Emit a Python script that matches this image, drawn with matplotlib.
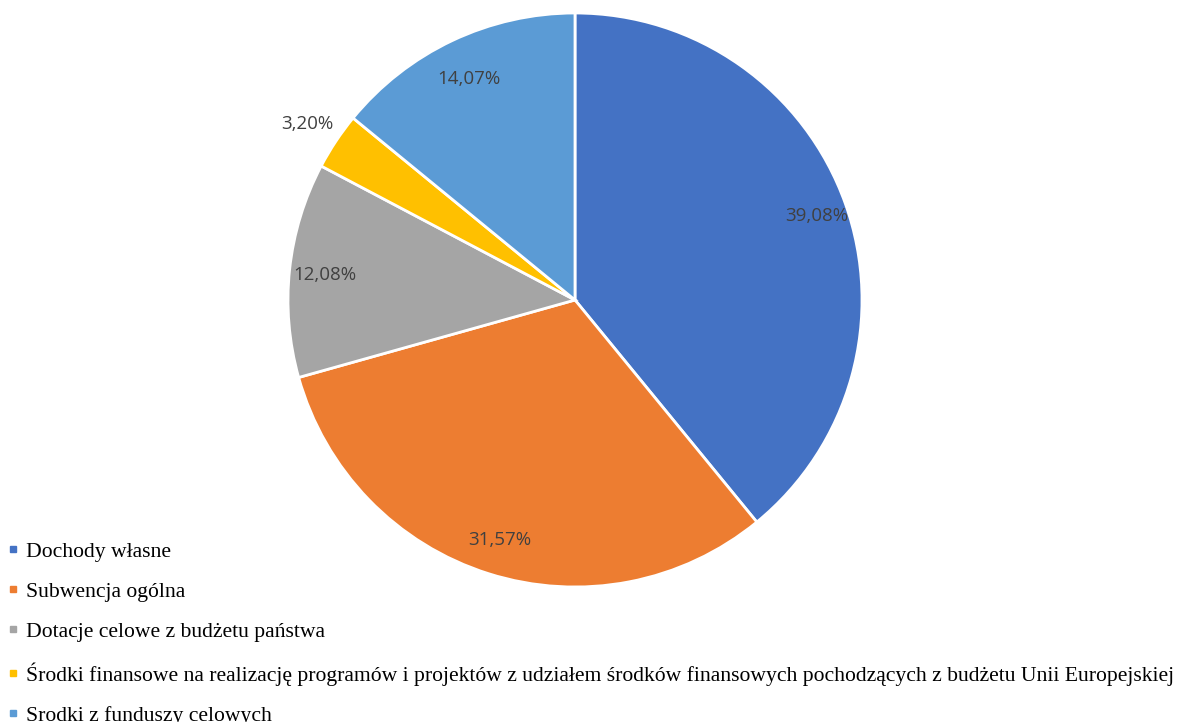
import numpy as np
import matplotlib
matplotlib.use('Agg')
import matplotlib.pyplot as plt
from matplotlib.lines import Line2D

# udzial zrodel dochodow (%)
kategorie = ['Dochody własne',
             'Subwencja ogólna',
             'Dotacje celowe z budżetu państwa',
             'Środki finansowe na realizację programów i projektów z udziałem środków finansowych pochodzących z budżetu Unii Europejskiej',
             'Srodki z funduszy celowych']
udzialy = [39.08, 31.57, 12.08, 3.20, 14.07]
etykiety = ['39,08%', '31,57%', '12,08%', '3,20%', '14,07%']
kolory = ['#4472C4', '#ED7D31', '#A5A5A5', '#FFC000', '#5B9BD5']
odleglosc = [0.895, 0.87, 0.875, 1.12, 0.86]  # polozenie etykiet (x promien)

fig = plt.figure(figsize=(11.79, 7.22), dpi=100)
W, H = 1179, 722
cx, cy, r = 575, 300, 287
ax = fig.add_axes([(cx - r) / W, (H - cy - r) / H, 2 * r / W, 2 * r / H])

wedges, _ = ax.pie(udzialy, colors=kolory, startangle=90, counterclock=False,
                   radius=1, wedgeprops=dict(edgecolor='white', linewidth=2))
ax.set_xlim(-1, 1)
ax.set_ylim(-1, 1)
ax.set_aspect('equal')
ax.axis('off')

for w, lab, d in zip(wedges, etykiety, odleglosc):
    kat = np.deg2rad((w.theta1 + w.theta2) / 2)
    ax.text(d * np.cos(kat), d * np.sin(kat), lab, ha='center', va='center_baseline',
            fontsize=13.5, color='#404040', family='Open Sans')

uchwyty = [Line2D([], [], marker='s', linestyle='none', markersize=5,
                  markerfacecolor=k, markeredgecolor=k) for k in kolory]
fig.legend(uchwyty, kategorie, loc='lower left', bbox_to_anchor=(-0.007, -0.026),
           frameon=False, prop={'family': 'Liberation Serif', 'size': 15.6},
           handlelength=0.6, handletextpad=0.28, labelspacing=0.92, borderpad=0.2)

fig.savefig('out.png', dpi=100)
